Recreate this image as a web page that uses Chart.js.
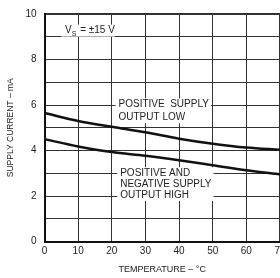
<!DOCTYPE html>
<html>
<head>
<meta charset="utf-8">
<script src="https://cdn.jsdelivr.net/npm/chart.js@4.4.0/dist/chart.umd.min.js"></script>
<style>
  html, body { margin: 0; padding: 0; background: #fff; }
  #wrap { width: 280px; height: 278px; overflow: hidden; }
  #box { width: 300px; height: 278px; }
</style>
</head>
<body>
<div id="wrap"><div id="box"><canvas id="myChart"></canvas></div></div>
<script>
// temperature (°C) and supply current (mA)
const temps = [0, 10, 20, 30, 40, 50, 60, 70];
const outputLow = [5.65, 5.3, 5.04, 4.8, 4.52, 4.3, 4.13, 4.03];
const outputHigh = [4.5, 4.18, 3.93, 3.77, 3.57, 3.35, 3.13, 2.95];
const xTicks = [0, 10, 20, 30, 40, 50, 60, 70];
const yTicks = [0, 2, 4, 6, 8, 10];

const FONT = "'Liberation Sans', Arial, Helvetica, sans-serif";
const INK = "#222";

// text notes on the plot, placed in data units
const notes = [
  { x: 22.0, y: [6.03, 5.46], lines: ["POSITIVE  SUPPLY", "OUTPUT LOW"] },
  { x: 22.5, y: [3.0, 2.53, 2.05], lines: ["POSITIVE AND", "NEGATIVE SUPPLY", "OUTPUT HIGH"] },
];

const notesPlugin = {
  id: "notes",
  afterDatasetsDraw(chart) {
    const { ctx, scales: { x, y } } = chart;
    ctx.save();
    ctx.font = "10px " + FONT;
    ctx.textBaseline = "middle";
    notes.forEach((n) => {
      const px = x.getPixelForValue(n.x);
      const tops = n.y.map((v) => y.getPixelForValue(v));
      const w = Math.max(...n.lines.map((t) => ctx.measureText(t).width));
      ctx.fillStyle = "#fff";
      ctx.fillRect(px - 3, tops[0] - 6, w + 5, tops[tops.length - 1] - tops[0] + 12);
      ctx.fillStyle = INK;
      n.lines.forEach((t, i) => ctx.fillText(t, px, tops[i]));
    });

    // V_S = ±15 V
    const vx = x.getPixelForValue(6.1);
    const vy = y.getPixelForValue(9.27);
    ctx.fillStyle = "#fff";
    ctx.fillRect(vx - 4, vy - 6, 54, 12);
    ctx.fillStyle = INK;
    ctx.fillText("V", vx, vy);
    let cx = vx + ctx.measureText("V").width;
    ctx.font = "7px " + FONT;
    ctx.fillText("S", cx, vy + 3);
    cx += ctx.measureText("S").width + 1;
    ctx.font = "10px " + FONT;
    ctx.fillText(" = ±15 V", cx, vy);
    ctx.restore();
  },
};

var ctx = document.getElementById("myChart");
var myChart = new Chart(ctx, {
  type: "line",
  data: {
    labels: temps,
    datasets: [
      {
        label: "Positive supply, output low",
        data: temps.map((t, i) => ({ x: t, y: outputLow[i] })),
        borderColor: "#111",
        borderWidth: 2.5,
        pointRadius: 0,
        cubicInterpolationMode: "monotone",
      },
      {
        label: "Positive and negative supply, output high",
        data: temps.map((t, i) => ({ x: t, y: outputHigh[i] })),
        borderColor: "#111",
        borderWidth: 2.5,
        pointRadius: 0,
        cubicInterpolationMode: "monotone",
      },
    ],
  },
  options: {
    responsive: true,
    maintainAspectRatio: false,
    animation: false,
    layout: { padding: { left: 0, top: 7, right: 20, bottom: 0 } },
    plugins: {
      legend: { display: false },
      tooltip: { enabled: false },
    },
    scales: {
      x: {
        type: "linear",
        min: 0,
        max: 70,
        afterBuildTicks: (s) => { s.ticks = xTicks.map((v) => ({ value: v })); },
        afterFit: (s) => { s.height = 36.5; },
        ticks: { padding: 4, maxRotation: 0, color: INK, font: { family: FONT, size: 10 } },
        grid: {
          color: "#333",
          lineWidth: (c) => (c.tick && c.tick.value === 70 ? 2 : 1),
          drawTicks: false,
        },
        border: { color: "#111", width: 2 },
        title: {
          display: true,
          text: "TEMPERATURE – °C",
          color: INK,
          font: { family: FONT, size: 9 },
          padding: { top: 7, bottom: 3 },
        },
      },
      y: {
        min: 0,
        max: 10,
        afterFit: (s) => { s.width = 44.5; },
        ticks: {
          stepSize: 1,
          padding: 8,
          color: INK,
          font: { family: FONT, size: 10 },
          callback: (v) => (yTicks.includes(v) ? v : ""),
        },
        grid: {
          color: "#333",
          lineWidth: (c) => (c.tick && c.tick.value === 10 ? 2 : 1),
          drawTicks: false,
        },
        border: { color: "#111", width: 2 },
        title: {
          display: true,
          text: "SUPPLY CURRENT – mA",
          color: INK,
          font: { family: FONT, size: 8.5 },
          padding: { top: 6, bottom: 0 },
        },
      },
    },
  },
  plugins: [notesPlugin],
});
</script>
</body>
</html>
